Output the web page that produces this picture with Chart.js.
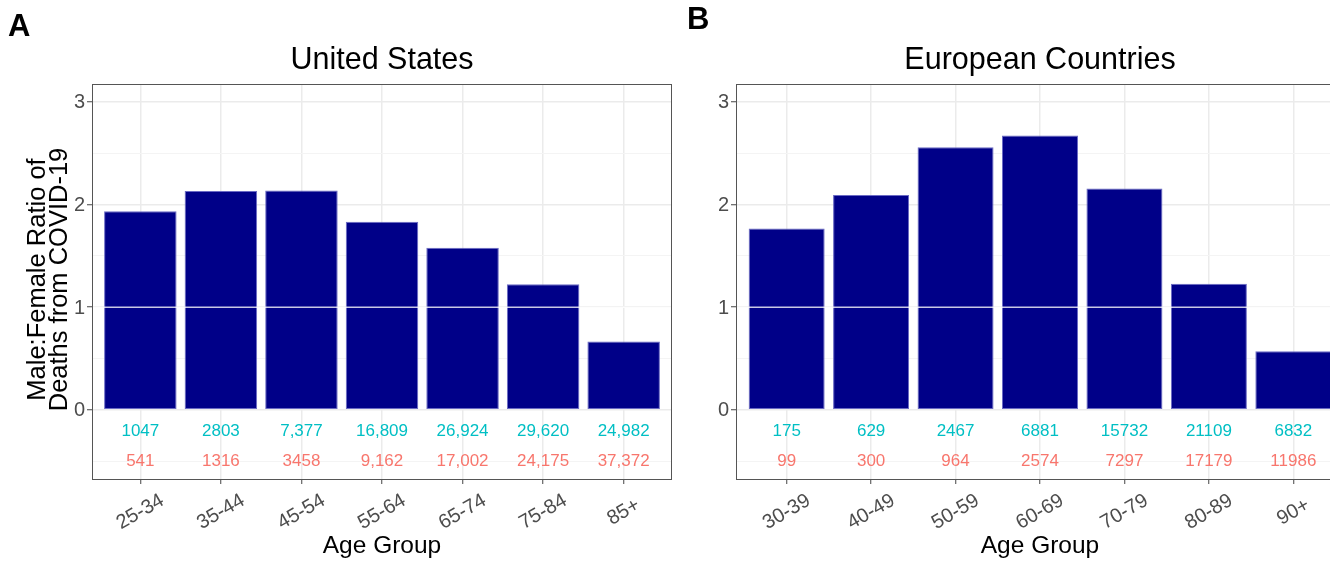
<!DOCTYPE html>
<html><head><meta charset="utf-8">
<script src="https://cdn.jsdelivr.net/npm/chart.js@4.4.1/dist/chart.umd.min.js"></script>
<style>
html,body{margin:0;padding:0;background:#fff;width:1330px;height:561px;overflow:hidden;position:relative}
.w{position:absolute;top:0;height:561px}
canvas{display:block}
</style></head><body>
<div class="w" style="left:0;width:680px"><canvas id="c1" width="680" height="561"></canvas></div>
<div class="w" style="left:650px;width:710px"><canvas id="c2" width="710" height="561"></canvas></div>
<script>
// ---- data ----
const usAgeGroups = ['25-34','35-44','45-54','55-64','65-74','75-84','85+'];
const usRatio = [1.935, 2.133, 2.137, 1.832, 1.58, 1.222, 0.666];
const usMaleDeaths = ['1047','2803','7,377','16,809','26,924','29,620','24,982'];
const usFemaleDeaths = ['541','1316','3458','9,162','17,002','24,175','37,372'];

const euAgeGroups = ['30-39','40-49','50-59','60-69','70-79','80-89','90+'];
const euRatio = [1.766, 2.094, 2.559, 2.673, 2.156, 1.229, 0.571];
const euMaleDeaths = ['175','629','2467','6881','15732','21109','6832'];
const euFemaleDeaths = ['99','300','964','2574','7297','17179','11986'];

const yTickValues = [-0.5, 0, 0.5, 1, 1.5, 2, 2.5, 3];
const yTickLabels = ['', '0', '', '1', '', '2', '', '3'];
const yAxisTitle = ['Male:Female Ratio of', 'Deaths from COVID-19'];
const xAxisTitle = 'Age Group';

const FONT = '"Liberation Sans", Arial, Helvetica, sans-serif';
const isMajor = v => Math.abs(v - Math.round(v)) < 1e-9;

function panelPlugin(cfg) {
  return {
    id: 'panel_' + cfg.key,
    afterDatasetsDraw(chart) {
      const {ctx, chartArea: a, scales: {x, y}} = chart;
      ctx.save();
      // reference line at ratio 1
      const y1 = y.getPixelForValue(1);
      ctx.strokeStyle = 'rgba(255,255,255,0.78)';
      ctx.lineWidth = 1.5;
      ctx.beginPath(); ctx.moveTo(a.left, y1); ctx.lineTo(a.right, y1); ctx.stroke();
      // panel border
      ctx.strokeStyle = '#555';
      ctx.lineWidth = 1;
      ctx.strokeRect(a.left + 0.5, a.top + 0.5, a.right - a.left - 1, a.bottom - a.top);
      // counts
      ctx.textAlign = 'center'; ctx.textBaseline = 'middle';
      ctx.font = '17px ' + FONT;
      cfg.labels.forEach((lab, i) => {
        const px = x.getPixelForValue(i);
        ctx.fillStyle = '#00BFC4';
        ctx.fillText(cfg.male[i], px, y.getPixelForValue(-0.21));
        ctx.fillStyle = '#F8766D';
        ctx.fillText(cfg.female[i], px, y.getPixelForValue(-0.5));
      });
      // x tick labels (rotated 30deg, centered on tick)
      ctx.fillStyle = '#4d4d4d';
      ctx.font = '20px ' + FONT;
      cfg.labels.forEach((lab, i) => {
        const px = x.getPixelForValue(i);
        ctx.save();
        ctx.translate(px, a.bottom + 33);
        ctx.rotate(-Math.PI / 6);
        ctx.fillText(lab, 0, 0);
        ctx.restore();
      });
      // y tick labels
      ctx.textAlign = 'right';
      yTickValues.forEach((v, i) => {
        if (yTickLabels[i]) ctx.fillText(yTickLabels[i], a.left - 7, y.getPixelForValue(v) + 1);
      });
      // x axis title
      const cx = (a.left + a.right) / 2;
      ctx.fillStyle = '#000';
      ctx.textAlign = 'center'; ctx.textBaseline = 'alphabetic';
      ctx.font = '24.5px ' + FONT;
      ctx.fillText(xAxisTitle, cx, 553);
      // y axis title
      if (cfg.yTitle) {
        const cy = (a.top + a.bottom) / 2 - 2;
        ctx.font = '25.5px ' + FONT;
        [45, 67].forEach((bx, k) => {
          ctx.save();
          ctx.translate(bx, cy);
          ctx.rotate(-Math.PI / 2);
          ctx.fillText(yAxisTitle[k], 0, 0);
          ctx.restore();
        });
      }
      // panel title
      ctx.font = '30.5px ' + FONT;
      ctx.fillText(cfg.title, cx, 69);
      // panel letter
      ctx.textAlign = 'left';
      ctx.font = 'bold 31px ' + FONT;
      ctx.fillText(cfg.letter, cfg.letterX, cfg.letterY);
      ctx.restore();
    }
  };
}

function makeChart(id, cfg) {
  return new Chart(document.getElementById(id), {
    type: 'bar',
    data: {
      datasets: [{
        data: cfg.values.map((v, i) => ({x: i, y: v})),
        backgroundColor: '#000088',
        borderColor: '#6a6ac4',
        borderWidth: 1,
        borderSkipped: false,
        categoryPercentage: 1,
        barPercentage: 0.9
      }]
    },
    options: {
      responsive: false, animation: false, devicePixelRatio: 1,
      layout: {padding: {left: 0, right: cfg.padRight, top: 84, bottom: 0}},
      plugins: {legend: {display: false}, tooltip: {enabled: false}},
      scales: {
        x: {
          type: 'linear', min: -0.6, max: 6.6, offset: false,
          afterBuildTicks: s => { s.ticks = cfg.labels.map((_, i) => ({value: i})); },
          ticks: {display: false},
          grid: {offset: false, color: '#ebebeb', lineWidth: 1.5, tickColor: '#444', tickLength: 5, tickWidth: 1},
          border: {display: false},
          afterFit: s => { s.height = 82; }
        },
        y: {
          type: 'linear', min: -0.675, max: 3.175,
          afterBuildTicks: s => { s.ticks = yTickValues.map(v => ({value: v})); },
          ticks: {display: false},
          grid: {
            color: c => isMajor(c.tick.value) ? '#ebebeb' : '#f4f4f4',
            lineWidth: c => isMajor(c.tick.value) ? 1.5 : 1,
            tickColor: c => isMajor(c.tick.value) ? '#444' : 'rgba(0,0,0,0)',
            tickLength: 5, tickWidth: 1
          },
          border: {display: false},
          afterFit: s => { s.width = cfg.yWidth; }
        }
      }
    },
    plugins: [panelPlugin(cfg)]
  });
}

makeChart('c1', {key: 'us', labels: usAgeGroups, values: usRatio, male: usMaleDeaths, female: usFemaleDeaths,
  title: 'United States', letter: 'A', letterX: 8, letterY: 36, yTitle: true, yWidth: 92, padRight: 8});
makeChart('c2', {key: 'eu', labels: euAgeGroups, values: euRatio, male: euMaleDeaths, female: euFemaleDeaths,
  title: 'European Countries', letter: 'B', letterX: 37, letterY: 29, yTitle: false, yWidth: 86, padRight: 16});
</script>
</body></html>
